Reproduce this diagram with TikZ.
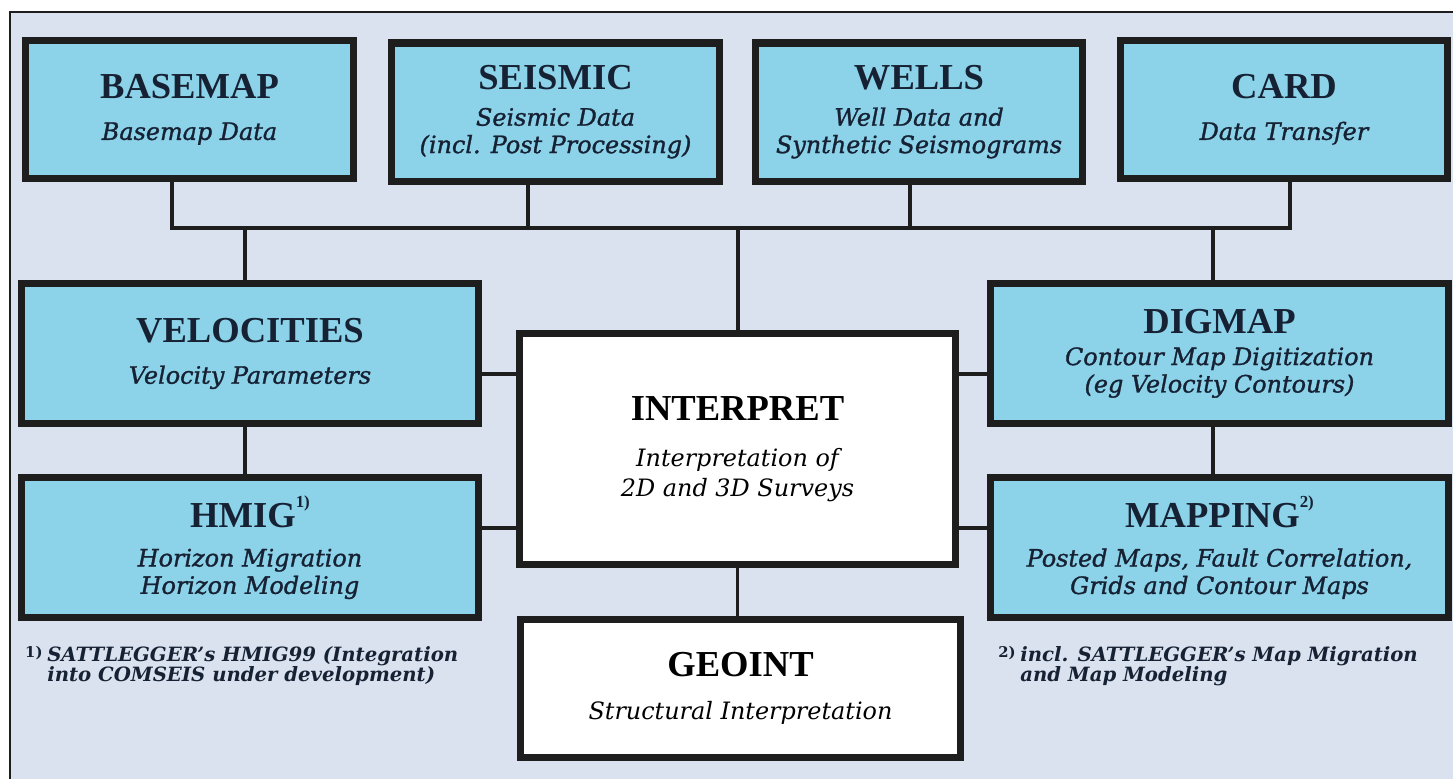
\documentclass[tikz,border=0pt]{standalone}
\usepackage{fontspec}
\setmainfont{Liberation Serif}
\newfontfamily\subfont[Ligatures=TeX]{DejaVu Serif}
\newfontfamily\subfontmed[Ligatures=TeX,FakeBold=1.2]{DejaVu Serif}
\usepackage{tikz}
\usetikzlibrary{positioning}
\definecolor{PanelGris}{RGB}{217,226,238}
\definecolor{ModCian}{RGB}{140,210,233}
\definecolor{TintaAzul}{RGB}{22,34,52}
\definecolor{Marco}{RGB}{30,30,30}

\newcommand{\modtitle}[1]{{\normalfont\fontsize{26}{30}\selectfont\bfseries #1}}
\newcommand{\modlabel}[3][10pt]{\modtitle{#2}\\[#1]#3}
\newcommand{\fnmark}[1]{\raisebox{0.55em}{\fontsize{12}{12}\selectfont #1}}

\begin{document}
\begin{tikzpicture}[x=0.025cm,y=-0.025cm,
  modbox/.style={draw=Marco,line width=5pt,fill=ModCian,text=TintaAzul,inner sep=0pt,
    align=center,font=\fontsize{17}{19.5}\subfontmed\itshape},
  topbox/.style={modbox,minimum width=8.175cm,minimum height=3.45cm},
  sidebox/.style={modbox,minimum width=11.425cm,minimum height=3.5cm},
  corebox/.style={modbox,fill=white,text=black,font=\fontsize{17}{21}\subfont\itshape},
  link/.style={draw=Marco,line width=2.8pt},
  footnote/.style={inner sep=0pt,align=left,text=TintaAzul,
    font=\fontsize{14}{14.3}\subfont\bfseries\itshape},
  footmark/.style={inner sep=0pt,text=TintaAzul,font=\fontsize{10.5}{10.5}\subfont\bfseries}]
  \useasboundingbox (0,0) rectangle (1453,779);
  % panel
  \fill[PanelGris] (10,12) rectangle (1453,779);
  \draw[Marco,line width=1.4pt] (1453,12) -- (10,12) -- (10,779);

  % data modules
  \node[topbox] (basemap) at (189.5,109.5) {\modlabel{BASEMAP}{Basemap Data}};
  \node[topbox] (seismic) at (555.5,112) {\modlabel[6pt]{SEISMIC}{Seismic Data\\(incl. Post Processing)}};
  \node[topbox] (wells) at (919,112) {\modlabel[6pt]{WELLS}{Well Data and\\Synthetic Seismograms}};
  \node[topbox] (card) at (1284,109.5) {\modlabel{CARD}{Data Transfer}};

  \node[sidebox] (velocities) at (250,353.5) {\modlabel{VELOCITIES}{Velocity Parameters}};
  \node[sidebox] (hmig) at (250,547.5) {\modlabel[8pt]{HMIG\fnmark{1)}}{Horizon Migration\\Horizon Modeling}};
  \node[sidebox] (digmap) at (1219.5,353.5) {\modlabel[3pt]{DIGMAP}{Contour Map Digitization\\(eg Velocity Contours)}};
  \node[sidebox] (mapping) at (1219.5,547.5) {\modlabel[8pt]{MAPPING\fnmark{2)}}{Posted Maps, Fault Correlation,\\Grids and Contour Maps}};

  \node[corebox,minimum width=10.9cm,minimum height=5.775cm] (interpret) at (737.5,449)
    {\modlabel[12pt]{INTERPRET}{Interpretation of\\2D and 3D Surveys}};
  \node[corebox,minimum width=11cm,minimum height=3.45cm] (geoint) at (740.5,688.5)
    {\modlabel{GEOINT}{Structural Interpretation}};

  % bus and drops
  \coordinate (busL) at (172,228);
  \coordinate (busR) at (1290,228);
  \coordinate (sd) at (528,228);
  \coordinate (wd) at (910,228);
  \coordinate (vu) at (245,228);
  \coordinate (iu) at (738,228);
  \coordinate (du) at (1213,228);
  \draw[link] (basemap.south -| busL) -- (busL) -- (busR) -- (card.south -| busR);
  \foreach \m/\c in {seismic/sd,wells/wd}
    \draw[link] (\m.south -| \c) -- (\c);
  \foreach \m/\c in {velocities/vu,interpret/iu,digmap/du}
    \draw[link] (\c) -- (\m.north -| \c);
  \draw[link] (velocities.south -| vu) -- (hmig.north -| vu);
  \draw[link] (digmap.south -| du) -- (mapping.north -| du);
  \draw[link] (interpret.south) -- (interpret.south |- geoint.north);

  % rungs to INTERPRET
  \coordinate (r1) at (0,374);
  \coordinate (r2) at (0,528);
  \draw[link] (velocities.east |- r1) -- (interpret.west |- r1);
  \draw[link] (hmig.east |- r2) -- (interpret.west |- r2);
  \draw[link] (interpret.east |- r1) -- (digmap.west |- r1);
  \draw[link] (interpret.east |- r2) -- (mapping.west |- r2);

  % footnotes
  \node[footnote,anchor=north west] (fn1) at (47,646) {SATTLEGGER's HMIG99 (Integration\\into COMSEIS under development)};
  \node[footmark,anchor=north east] (fm1) at ([xshift=-3pt]fn1.north west) {1)};
  \node[footnote,anchor=north west] (fn2) at (1020,646) {incl. SATTLEGGER's Map Migration\\and Map Modeling};
  \node[footmark,anchor=north east] (fm2) at ([xshift=-3pt]fn2.north west) {2)};
\end{tikzpicture}
\end{document}
